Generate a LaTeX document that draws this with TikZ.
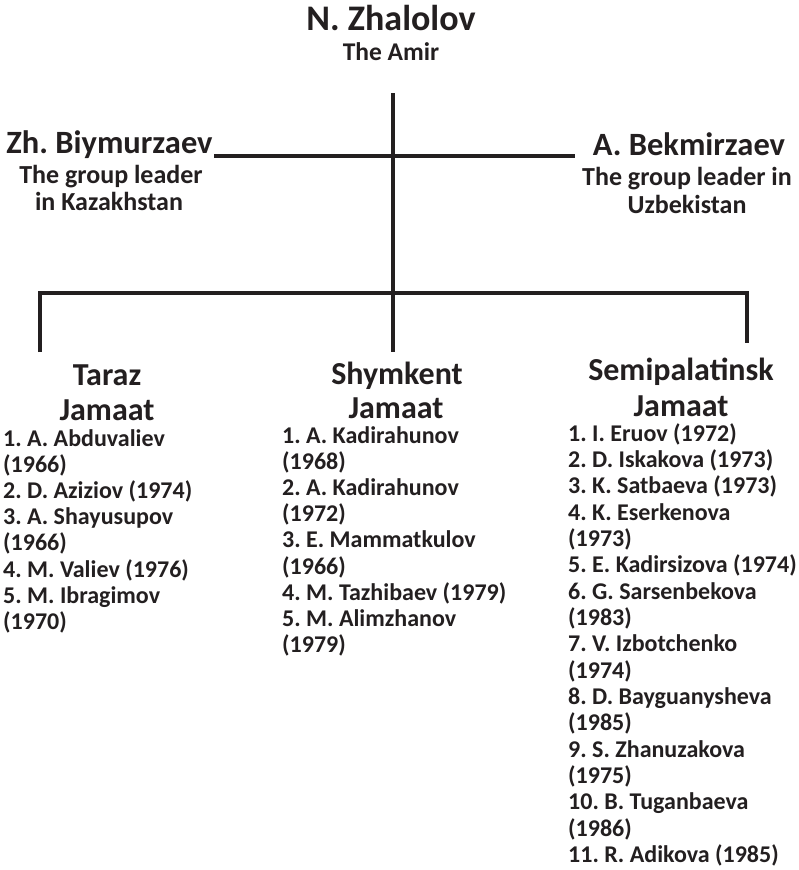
\documentclass[tikz,border=0pt]{standalone}
\usepackage{fontspec}
\setmainfont{Carlito}
\definecolor{ink}{HTML}{231F20}
\begin{document}
\frenchspacing
\begin{tikzpicture}[x=1pt,y=-1pt,
  lbl/.style={inner sep=0pt,text=ink,anchor=base},
  bigname/.style={lbl,font=\bfseries\fontsize{36}{40}\selectfont},
  leadname/.style={lbl,font=\bfseries\fontsize{32.5}{36}\selectfont},
  headname/.style={lbl,font=\bfseries\fontsize{32}{36}\selectfont},
  subtxt/.style={lbl,font=\bfseries\fontsize{26}{28}\selectfont},
  listtxt/.style={lbl,anchor=base west,font=\bfseries\fontsize{24}{26}\selectfont},
  conn/.style={line width=4.5pt,ink}]
\useasboundingbox (0,0) rectangle (799,870);
\fill[white] (0,0) rectangle (799,870);
% top
\node[bigname] (amir) at (391,30) {N. Zhalolov};
\node[subtxt,font=\bfseries\fontsize{25.5}{28}\selectfont] (amirsub) at (391,60) {The Amir};
% leaders
\node[leadname] (biy) at (109.5,153) {Zh. Biymurzaev};
\node[subtxt] (biysub1) at (111,183) {The group leader};
\node[subtxt] (biysub2) at (109,210) {in Kazakhstan};
\node[leadname] (bek) at (689,155) {A. Bekmirzaev};
\node[subtxt] (beksub1) at (687,185) {The group leader in};
\node[subtxt] (beksub2) at (687,213) {Uzbekistan};
% coordinates
\coordinate (top) at (393,93);
\coordinate (lcross) at (214,156);
\coordinate (rcross) at (575,156);
\coordinate (lbar) at (40,293);
\coordinate (rbar) at (747,293);
\coordinate (ldrop) at (40,352);
\coordinate (mdrop) at (393,352);
\coordinate (rdrop) at (747,343);
% jamaat headers
\node[headname] (taraz1) at (107,385) {Taraz};
\node[headname] (taraz2) at (107,420) {Jamaat};
\node[headname] (shym1) at (397,384) {Shymkent};
\node[headname] (shym2) at (396,418) {Jamaat};
\node[headname] (semi1) at (681,380) {Semipalatinsk};
\node[headname] (semi2) at (681,416) {Jamaat};
% lists
\foreach \t [count=\i] in {1. A. Abduvaliev,(1966),2. D. Aziziov (1974),3. A. Shayusupov,(1966),4. M. Valiev (1976),5. M. Ibragimov,(1970)}
  \node[listtxt] (tar\i) at (3,{446+(\i-1)*26.2}) {\t};
\foreach \t [count=\i] in {1. A. Kadirahunov,(1968),2. A. Kadirahunov,(1972),3. E. Mammatkulov,(1966),4. M. Tazhibaev (1979),5. M. Alimzhanov,(1979)}
  \node[listtxt] (shy\i) at (282,{443+(\i-1)*26.2}) {\t};
\foreach \t [count=\i] in {1. I. Eruov (1972),2. D. Iskakova (1973),3. K. Satbaeva (1973),4. K. Eserkenova,(1973),5. E. Kadirsizova (1974),6. G. Sarsenbekova,(1983),7. V. Izbotchenko,(1974),8. D. Bayguanysheva,(1985),9. S. Zhanuzakova,(1975),10. B. Tuganbaeva,(1986),11. R. Adikova (1985)}
  \node[listtxt] (sem\i) at (568,{441+(\i-1)*26.35}) {\t};
% connectors
\draw[conn] (top) -- (mdrop);
\draw[conn] (lcross) -- (rcross);
\draw[conn] (ldrop) -- (lbar) -- (rbar) -- (rdrop);
\end{tikzpicture}
\end{document}
